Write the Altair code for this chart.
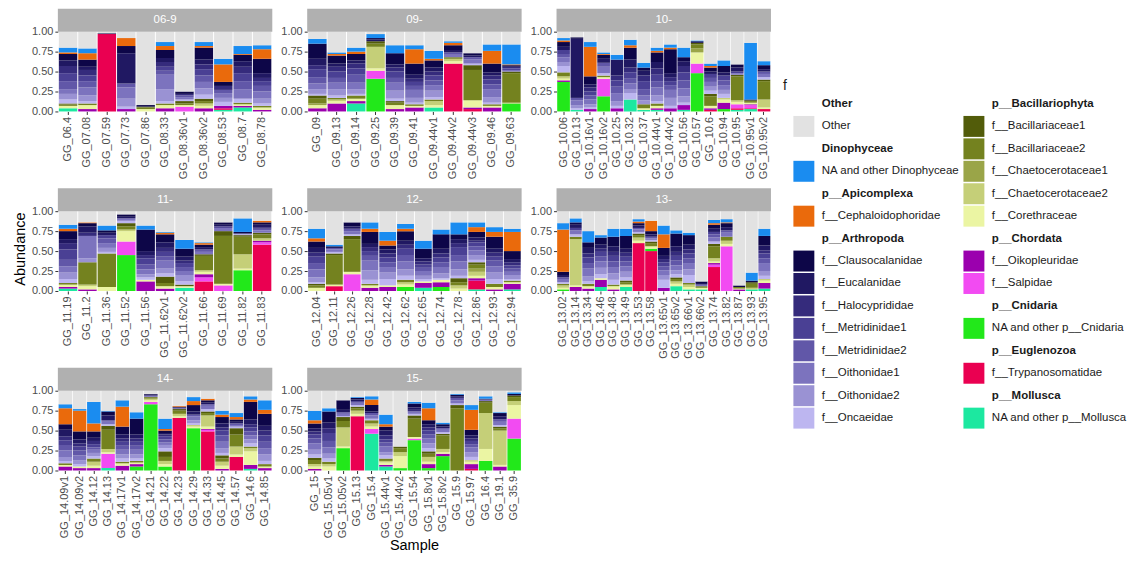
import altair as alt
import pandas as pd

FONT = "Liberation Sans"

# ---------------- families (legend order, top -> bottom) ----------------
FAMILIES = [
    "Other", "NA and other Dinophyceae", "f__Cephaloidophoridae",
    "f__Clausocalanidae", "f__Eucalanidae", "f__Halocyprididae",
    "f__Metridinidae1", "f__Metridinidae2", "f__Oithonidae1", "f__Oithonidae2",
    "f__Oncaeidae", "f__Bacillariaceae1", "f__Bacillariaceae2",
    "f__Chaetocerotaceae1", "f__Chaetocerotaceae2", "f__Corethraceae",
    "f__Oikopleuridae", "f__Salpidae", "NA and other p__Cnidaria",
    "f__Trypanosomatidae", "NA and other p__Mollusca",
]
COLORS = [
    "#E2E2E2", "#1A8CF0", "#EA6A0C",
    "#0D0648", "#201862", "#352B7C",
    "#4A4094", "#6157A8", "#7C73BE", "#9A92D3",
    "#BDB6F0", "#525C0A", "#74821F",
    "#9AA548", "#C5CF78", "#EBF5A3",
    "#9B00AE", "#F24BF2", "#22E81A",
    "#EA0051", "#1CE8A0",
]
CODES = {
    "Di": "NA and other Dinophyceae", "Ce": "f__Cephaloidophoridae",
    "Cl": "f__Clausocalanidae", "Eu": "f__Eucalanidae", "Ha": "f__Halocyprididae",
    "M1": "f__Metridinidae1", "M2": "f__Metridinidae2", "O1": "f__Oithonidae1",
    "O2": "f__Oithonidae2", "On": "f__Oncaeidae", "B1": "f__Bacillariaceae1",
    "B2": "f__Bacillariaceae2", "C1": "f__Chaetocerotaceae1",
    "C2": "f__Chaetocerotaceae2", "Co": "f__Corethraceae", "Oi": "f__Oikopleuridae",
    "Sa": "f__Salpidae", "Cn": "NA and other p__Cnidaria",
    "Tr": "f__Trypanosomatidae", "Mo": "NA and other p__Mollusca",
}

GROUPS = ["06-9", "09-", "10-", "11-", "12-", "13-", "14-", "15-"]

# ---------------- panel 06-9 ----------------
S1 = ["GG_06.4", "GG_07.08", "GG_07.59", "GG_07.73", "GG_07.86", "GG_08.33",
      "GG_08.36v1", "GG_08.36v2", "GG_08.53", "GG_08.7", "GG_08.78"]
C1 = [
    dict(Mo=.04, Co=.03, B2=.02, B1=.01, On=.05, O2=.07, O1=.06, M2=.10, M1=.10, Ha=.09, Eu=.07, Cl=.08, Ce=.02, Di=.06),
    dict(Oi=.03, Co=.05, B2=.02, On=.03, O2=.07, O1=.10, M2=.08, M1=.07, Ha=.07, Eu=.04, Cl=.09, Ce=.08, Di=.06),
    dict(Tr=.97, Cl=.01),
    dict(Oi=.03, On=.03, O2=.10, O1=.14, M2=.05, Eu=.38, Cl=.09, Ce=.10),
    dict(Co=.03, B2=.02, B1=.01, Cl=.02),
    dict(Oi=.04, Co=.04, B2=.02, On=.03, O2=.15, O1=.18, M2=.05, M1=.05, Ha=.06, Eu=.05, Cl=.10, Ce=.05, Di=.05),
    dict(Sa=.06, Co=.02, B2=.02, B1=.03, On=.02, O1=.03, M2=.02, Ha=.02, Cl=.03),
    dict(Oi=.04, Co=.03, C2=.03, B2=.03, B1=.03, On=.05, O2=.08, O1=.08, M2=.08, M1=.08, Ha=.06, Eu=.06, Cl=.15, Ce=.02, Di=.05),
    dict(Mo=.02, Tr=.02, Oi=.03, On=.05, O2=.05, O1=.06, M2=.04, Ha=.05, Cl=.05, Ce=.22, Di=.07),
    dict(Mo=.05, Oi=.02, Co=.02, B2=.02, On=.05, O1=.12, M2=.10, M1=.10, Ha=.08, Eu=.07, Cl=.08, Ce=.01, Di=.10),
    dict(Oi=.02, Co=.03, B2=.02, On=.03, O2=.06, O1=.09, M2=.07, M1=.06, Ha=.04, Eu=.06, Cl=.18, Ce=.12, Di=.05),
]

# ---------------- panel 09- ----------------
S2 = ["GG_09", "GG_09.13", "GG_09.14", "GG_09.25", "GG_09.39", "GG_09.41",
      "GG_09.44v1", "GG_09.44v2", "GG_09.44v3", "GG_09.46", "GG_09.63"]
C2 = [
    dict(Oi=.04, Co=.04, C1=.02, B2=.06, B1=.04, On=.02, O2=.06, O1=.07, M2=.08, M1=.10, Ha=.05, Eu=.08, Cl=.19, Di=.06),
    dict(Oi=.10, Co=.03, C2=.02, B2=.02, On=.03, O2=.08, O1=.08, M2=.06, M1=.08, Ha=.06, Eu=.04, Cl=.10, Ce=.02, Di=.02),
    dict(Mo=.10, Oi=.03, Co=.03, B2=.04, On=.02, O2=.06, O1=.08, M2=.10, M1=.08, Ha=.06, Eu=.04, Cl=.08, Ce=.03, Di=.05),
    dict(Cn=.41, Sa=.10, Co=.03, C2=.27, B2=.04, B1=.03, Eu=.02, Cl=.02, Di=.05),
    dict(Oi=.03, Co=.05, B2=.03, B1=.02, On=.03, O2=.10, O1=.10, M2=.06, M1=.08, Ha=.05, Eu=.04, Cl=.14, Di=.10),
    dict(Oi=.05, Co=.02, B2=.02, On=.02, O2=.06, O1=.10, M2=.05, M1=.05, Ha=.04, Eu=.05, Cl=.14, Ce=.18, Di=.05),
    dict(Mo=.05, Co=.03, C2=.05, B2=.02, On=.03, O2=.08, O1=.07, M2=.06, M1=.06, Ha=.05, Eu=.05, Cl=.09, Ce=.02, Di=.10),
    dict(Tr=.60, Co=.03, C2=.03, B2=.02, O1=.03, M2=.03, Eu=.03, Cl=.06, Ce=.03, Di=.02),
    dict(Tr=.03, Oi=.02, Co=.09, B2=.38, B1=.06, On=.02, O1=.05, M2=.03, Eu=.02, Cl=.03),
    dict(Oi=.05, Co=.02, B2=.02, On=.02, O2=.07, O1=.10, M2=.06, M1=.06, Ha=.05, Eu=.04, Cl=.11, Ce=.16, Di=.08),
    dict(Cn=.10, C2=.01, B2=.37, B1=.02, O1=.02, M1=.02, Ha=.02, Cl=.02, Ce=.01, Di=.25),
]

# ---------------- panel 10- ----------------
S3 = ["GG_10.06", "GG_10.13", "GG_10.16v1", "GG_10.16v2", "GG_10.25", "GG_10.32",
      "GG_10.37", "GG_10.44v1", "GG_10.44v2", "GG_10.56", "GG_10.57", "GG_10.6",
      "GG_10.94", "GG_10.95", "GG_10.95v1", "GG_10.95v2"]
C3 = [
    dict(Cn=.37, Oi=.02, C2=.03, B2=.05, Co=.02, On=.08, O2=.05, O1=.06, M2=.04, M1=.05, Eu=.04, Cl=.06, Ce=.02, Di=.03),
    dict(Mo=.02, On=.02, O2=.04, O1=.06, M2=.03, Eu=.74, Cl=.02),
    dict(Oi=.03, On=.02, O2=.04, O1=.06, M2=.05, M1=.05, Ha=.05, Eu=.04, Cl=.10, Ce=.37, Di=.06),
    dict(Cn=.19, Sa=.22, Co=.02, B2=.02, On=.03, O1=.08, M2=.05, Eu=.05, Cl=.05, Ce=.01, Di=.02),
    dict(Oi=.04, On=.03, O2=.06, O1=.10, M2=.08, M1=.08, Ha=.06, Eu=.20, Di=.06),
    dict(Mo=.15, On=.08, O2=.05, O1=.07, M2=.06, M1=.08, Ha=.06, Eu=.10, Cl=.15, Ce=.03, Di=.07),
    dict(Mo=.02, Co=.02, B2=.05, O2=.05, O1=.06, M2=.08, M1=.10, Ha=.07, Eu=.06, Cl=.04, Di=.06),
    dict(Mo=.02, Oi=.02, Co=.03, B2=.03, On=.03, O2=.07, O1=.10, M2=.08, M1=.08, Ha=.08, Eu=.08, Cl=.12, Ce=.02, Di=.04),
    dict(Oi=.04, On=.03, O2=.10, O1=.10, M2=.06, M1=.05, Ha=.05, Eu=.05, Cl=.30, Ce=.02, Di=.04),
    dict(Mo=.02, Oi=.06, On=.03, O2=.08, O1=.10, M2=.10, M1=.10, Ha=.08, Eu=.06, Cl=.05, Di=.12),
    dict(Cn=.48, Sa=.12, Co=.14, C1=.05, B2=.05, B1=.02, Cl=.02, Di=.01),
    dict(Tr=.02, Oi=.02, Co=.03, B2=.12, B1=.03, On=.04, O2=.05, O1=.06, M2=.05, M1=.05, Eu=.03, Cl=.05, Ce=.02, Di=.03),
    dict(Cn=.03, Oi=.08, Co=.04, C2=.02, On=.05, O2=.05, O1=.06, M2=.06, M1=.06, Eu=.04, Cl=.08, Di=.07),
    dict(Mo=.02, Tr=.02, Sa=.05, Co=.03, C2=.02, B2=.30, B1=.02, O1=.02, M1=.02, Eu=.05, Cl=.04),
    dict(Mo=.03, Tr=.01, Sa=.04, Oi=.01, Co=.02, B2=.02, B1=.01, Cl=.01, Di=.71),
    dict(Tr=.03, Co=.02, C2=.10, B2=.23, B1=.02, On=.03, O1=.04, M2=.03, Eu=.03, Cl=.05, Di=.05),
]

# ---------------- panel 11- ----------------
S4 = ["GG_11.19", "GG_11.2", "GG_11.36", "GG_11.52", "GG_11.56", "GG_11.62v1",
      "GG_11.62v2", "GG_11.66", "GG_11.69", "GG_11.82", "GG_11.83"]
C4 = [
    dict(Mo=.03, Oi=.02, Co=.03, B2=.02, On=.05, O2=.08, O1=.08, M2=.08, M1=.13, Ha=.08, Eu=.05, Cl=.10, Ce=.03, Di=.05),
    dict(Oi=.02, Co=.04, C2=.02, B2=.28, O2=.05, O1=.28, Ha=.04, Eu=.08, Cl=.04, Ce=.01),
    dict(Co=.05, B2=.42, On=.02, O2=.05, O1=.06, M2=.06, M1=.04, Eu=.03, Cl=.03, Di=.06),
    dict(Cn=.45, Sa=.17, Co=.13, C2=.02, B2=.04, B1=.04, On=.03, O1=.03, Eu=.02, Cl=.03),
    dict(Oi=.12, Co=.02, On=.03, O2=.04, O1=.06, M2=.06, M1=.08, Ha=.04, Eu=.05, Cl=.27, Di=.05),
    dict(Oi=.03, Co=.03, B2=.04, B1=.08, On=.04, O2=.06, O1=.10, M2=.05, M1=.06, Ha=.05, Eu=.07, Cl=.10, Ce=.02, Di=.01),
    dict(Mo=.04, Co=.02, B1=.02, On=.04, O2=.08, O1=.05, M2=.05, M1=.05, Ha=.03, Eu=.05, Cl=.10, Di=.11),
    dict(Tr=.12, Sa=.05, Oi=.04, Co=.03, C2=.02, B2=.18, B1=.02, O1=.03, M2=.03, Eu=.03, Cl=.03, Ce=.02, Di=.01),
    dict(Sa=.07, Co=.02, B2=.60, B1=.06, O1=.04, M1=.02, Eu=.02, Cl=.03),
    dict(Cn=.26, Co=.02, C2=.18, B2=.22, B1=.02, On=.01, O1=.01, Cl=.02, Di=.17),
    dict(Tr=.58, Sa=.03, Oi=.02, C2=.03, B2=.05, B1=.02, O1=.03, M2=.02, Ha=.02, Eu=.03, Cl=.03, Ce=.02),
]

# ---------------- panel 12- ----------------
S5 = ["GG_12.04", "GG_12.11", "GG_12.26", "GG_12.28", "GG_12.42", "GG_12.62",
      "GG_12.65", "GG_12.74", "GG_12.78", "GG_12.86", "GG_12.93", "GG_12.94"]
C5 = [
    dict(Co=.04, B2=.03, B1=.02, On=.02, O2=.06, O1=.10, M2=.08, M1=.08, Ha=.05, Eu=.06, Cl=.08, Ce=.04, Di=.12),
    dict(Tr=.06, Co=.02, B2=.37, B1=.02, On=.02, O1=.03, M2=.02, Cl=.02, Di=.02),
    dict(Sa=.21, Co=.03, B2=.41, B1=.04, On=.02, O1=.04, M2=.03, Eu=.03, Cl=.05),
    dict(Oi=.04, Co=.03, B2=.02, On=.05, O2=.12, O1=.12, M2=.06, M1=.06, Ha=.05, Eu=.04, Cl=.15, Ce=.04, Di=.08),
    dict(Oi=.05, Co=.02, On=.08, O2=.08, O1=.07, M2=.06, M1=.06, Ha=.05, Eu=.05, Cl=.05, Ce=.06, Di=.11),
    dict(Cn=.05, Co=.03, C2=.03, B2=.03, On=.05, O2=.08, O1=.10, M2=.08, M1=.08, Ha=.05, Eu=.05, Cl=.12, Ce=.03, Di=.06),
    dict(Mo=.04, Oi=.06, Co=.02, On=.03, O2=.04, O1=.06, M2=.04, M1=.04, Ha=.04, Eu=.04, Cl=.12, Di=.10),
    dict(Cn=.05, Oi=.06, Co=.03, On=.02, O2=.06, O1=.08, M2=.06, M1=.06, Ha=.05, Eu=.06, Cl=.18, Di=.06),
    dict(Co=.03, C2=.04, B2=.04, B1=.05, On=.03, O2=.08, O1=.10, M2=.08, M1=.10, Ha=.05, Eu=.05, Cl=.06, Di=.15),
    dict(Mo=.02, Tr=.11, Oi=.03, Co=.03, C2=.05, C1=.04, B2=.05, B1=.03, On=.03, O2=.06, O1=.06, M2=.05, M1=.05, Ha=.02, Eu=.04, Cl=.07, Ce=.06, Di=.06),
    dict(Oi=.02, Co=.03, B2=.04, On=.06, O2=.08, O1=.08, M2=.07, M1=.05, Ha=.05, Eu=.05, Cl=.15, Ce=.06, Di=.06),
    dict(Mo=.02, Oi=.07, Co=.02, B2=.02, On=.02, O2=.05, O1=.04, M2=.04, M1=.04, Ha=.04, Eu=.04, Cl=.10, Ce=.24, Di=.04),
]

# ---------------- panel 13- ----------------
S6 = ["GG_13.02", "GG_13.14", "GG_13.34", "GG_13.46", "GG_13.48", "GG_13.49",
      "GG_13.53", "GG_13.58", "GG_13.65v1", "GG_13.65v2", "GG_13.66v1",
      "GG_13.66v2", "GG_13.74", "GG_13.82", "GG_13.87", "GG_13.93", "GG_13.95"]
C6 = [
    dict(Cn=.02, Co=.02, C2=.03, B2=.02, On=.02, O1=.04, M2=.02, Eu=.03, Cl=.04, Ce=.53, Di=.08),
    dict(Oi=.05, Co=.02, C2=.58, B2=.03, On=.03, O1=.05, M1=.03, Eu=.04, Cl=.03, Di=.05),
    dict(Oi=.03, Co=.03, B2=.03, On=.03, O2=.06, O1=.10, M2=.07, M1=.07, Ha=.05, Eu=.07, Cl=.07, Di=.14),
    dict(Mo=.05, Oi=.09, Co=.02, On=.05, O2=.08, O1=.08, M2=.06, M1=.06, Ha=.04, Eu=.05, Cl=.09, Di=.03),
    dict(Oi=.02, Co=.04, B2=.02, On=.06, O2=.08, O1=.08, M2=.07, M1=.07, Ha=.05, Eu=.07, Cl=.12, Di=.10),
    dict(Mo=.05, Co=.03, B2=.03, B1=.02, On=.04, O2=.07, O1=.07, M2=.06, M1=.06, Ha=.05, Eu=.05, Cl=.16, Di=.09),
    dict(Tr=.60, Co=.03, C2=.04, B2=.03, B1=.02, On=.02, O1=.03, M2=.02, Eu=.03, Cl=.03, Ce=.02, Di=.03),
    dict(Tr=.50, Cn=.03, Co=.03, B2=.04, B1=.02, On=.02, O1=.02, M2=.02, Eu=.03, Cl=.04, Ce=.13),
    dict(Oi=.04, On=.10, O2=.06, O1=.06, M2=.05, M1=.05, Ha=.04, Eu=.04, Cl=.10, Ce=.17, Di=.11),
    dict(Mo=.06, Co=.03, C2=.03, B2=.03, B1=.02, On=.04, O2=.05, O1=.06, M2=.06, M1=.06, Ha=.05, Eu=.07, Cl=.16, Di=.04),
    dict(Mo=.02, Co=.03, C2=.03, B2=.02, On=.10, O2=.07, O1=.08, M2=.06, M1=.06, Ha=.05, Eu=.06, Cl=.12, Di=.03),
    dict(Mo=.02, Co=.02, B2=.02, O1=.02, Eu=.02, Cl=.02),
    dict(Tr=.30, Sa=.03, Oi=.02, Co=.02, C2=.04, B2=.15, B1=.03, On=.03, O1=.05, M2=.04, M1=.03, Eu=.04, Cl=.05, Ce=.02, Di=.04),
    dict(Sa=.56, Co=.03, C2=.04, B2=.05, O1=.05, M2=.03, Eu=.04, Cl=.05, Ce=.01, Di=.04),
    dict(Oi=.02, Co=.01, B2=.02, Cl=.02),
    dict(Mo=.02, C2=.02, B2=.05, B1=.02, Cl=.02, Di=.10),
    dict(Mo=.03, Oi=.07, Co=.03, C2=.02, On=.04, O2=.06, O1=.10, M2=.06, M1=.06, Ha=.04, Eu=.06, Cl=.12, Di=.09),
]

# ---------------- panel 14- ----------------
S7 = ["GG_14.09v1", "GG_14.09v2", "GG_14.12", "GG_14.13", "GG_14.17v1", "GG_14.17v2",
      "GG_14.21", "GG_14.22", "GG_14.23", "GG_14.29", "GG_14.33", "GG_14.45",
      "GG_14.57", "GG_14.6", "GG_14.85"]
C7 = [
    dict(Oi=.05, Co=.02, B2=.02, On=.03, O2=.05, O1=.08, M2=.07, M1=.06, Ha=.05, Eu=.08, Cl=.07, Ce=.20, Di=.05),
    dict(Oi=.03, Co=.02, On=.03, O2=.05, O1=.06, M2=.06, M1=.05, Ha=.04, Eu=.05, Cl=.10, Ce=.26, Di=.02),
    dict(Oi=.03, Co=.03, C2=.05, B2=.04, On=.03, O2=.04, O1=.04, M2=.03, M1=.04, Ha=.04, Eu=.04, Cl=.08, Ce=.10, Di=.27),
    dict(Mo=.03, Sa=.18, Co=.02, C2=.04, B2=.24, B1=.05, On=.02, O1=.03, M2=.02, Eu=.06, Cl=.05, Di=.01),
    dict(Oi=.06, Co=.03, B2=.02, On=.04, O2=.05, O1=.06, M2=.05, M1=.05, Ha=.04, Eu=.05, Cl=.10, Ce=.25, Di=.08),
    dict(Cn=.05, Oi=.03, Co=.02, B2=.02, On=.03, O2=.05, O1=.06, M2=.05, M1=.05, Ha=.04, Eu=.05, Cl=.20, Di=.08),
    dict(Cn=.83, Sa=.03, Co=.02, C2=.02, B2=.02, O1=.01, M1=.01, Eu=.01, Cl=.01),
    dict(Cn=.05, Co=.03, C2=.04, B2=.05, B1=.07, On=.04, O2=.04, O1=.03, M2=.04, M1=.04, Ha=.02, Eu=.02, Cl=.03, Ce=.02, Di=.13),
    dict(Tr=.66, Co=.02, C2=.03, B2=.04, B1=.02, O1=.01, Eu=.01, Cl=.01, Ce=.01),
    dict(Cn=.53, Co=.02, C2=.02, On=.02, O2=.04, O1=.05, M2=.02, Eu=.04, Cl=.08, Ce=.05, Di=.05),
    dict(Tr=.49, Sa=.02, Oi=.01, Co=.03, C2=.14, B2=.03, B1=.02, On=.03, O1=.04, M2=.02, Eu=.02, Cl=.03, Ce=.02),
    dict(Oi=.02, Co=.04, C2=.05, B2=.04, B1=.04, On=.03, O2=.06, O1=.08, M2=.08, M1=.06, Ha=.04, Eu=.05, Cl=.08, Ce=.03, Di=.05),
    dict(Tr=.17, Co=.03, C2=.10, B2=.15, B1=.08, On=.02, O1=.02, M2=.02, Eu=.02, Cl=.03, Ce=.03, Di=.05),
    dict(Mo=.02, Oi=.05, Co=.17, C2=.04, B2=.02, On=.04, O2=.05, O1=.05, M2=.05, M1=.05, Ha=.04, Eu=.06, Cl=.22, Ce=.03, Di=.04),
    dict(Oi=.03, Co=.02, B2=.03, On=.04, O2=.08, O1=.08, M2=.08, M1=.08, Ha=.06, Eu=.06, Cl=.15, Ce=.05, Di=.12),
]

# ---------------- panel 15- ----------------
S8 = ["GG_15", "GG_15.05v1", "GG_15.05v2", "GG_15.13", "GG_15.4", "GG_15.44v1",
      "GG_15.44v2", "GG_15.54", "GG_15.8v1", "GG_15.8v2", "GG_15.9", "GG_15.97",
      "GG_16.4", "GG_19.1", "GG_35.9"]
C8 = [
    dict(Oi=.02, Co=.03, C2=.03, B2=.05, B1=.03, On=.04, O2=.06, O1=.08, M2=.06, M1=.05, Ha=.04, Eu=.04, Cl=.06, Ce=.04, Di=.12),
    dict(Co=.05, C2=.03, B2=.03, On=.04, O2=.06, O1=.08, M2=.08, M1=.10, Ha=.06, Eu=.07, Cl=.14, Di=.04),
    dict(Cn=.28, Co=.02, C2=.24, B2=.08, B1=.05, On=.01, O1=.03, M2=.02, Eu=.03, Cl=.12),
    dict(Tr=.68, Co=.03, C2=.04, B2=.03, B1=.02, On=.02, O1=.03, M1=.02, Eu=.02, Cl=.02, Di=.01),
    dict(Mo=.46, Sa=.06, Co=.03, C2=.04, B2=.04, On=.02, O1=.04, M2=.03, Eu=.02, Cl=.08, Ce=.07, Di=.04),
    dict(Mo=.05, Oi=.02, Co=.03, C2=.02, B2=.03, On=.04, O2=.04, O1=.07, M2=.05, M1=.04, Ha=.05, Eu=.06, Cl=.05, Ce=.03, Di=.12),
    dict(Cn=.03, Co=.15, C2=.05, B2=.05, B1=.02),
    dict(Cn=.38, Sa=.02, Co=.02, B2=.23, B1=.04, On=.02, O1=.03, Ha=.02, Eu=.03, Cl=.05, Di=.02),
    dict(Cn=.03, Oi=.05, Co=.03, C2=.06, B2=.04, B1=.03, On=.04, O2=.06, O1=.06, M2=.05, M1=.05, Ha=.04, Eu=.04, Cl=.05, Ce=.15, Di=.07),
    dict(Cn=.18, Oi=.03, Co=.02, C2=.04, B2=.17, B1=.02, On=.02, O1=.03, M2=.02, Eu=.02, Cl=.03, Di=.02),
    dict(B2=.78, B1=.04, On=.02, O1=.04, M2=.03, Eu=.02, Cl=.02, Di=.01),
    dict(Tr=.02, Oi=.06, Co=.03, C2=.02, On=.04, O2=.06, O1=.06, M2=.04, M1=.04, Ha=.03, Eu=.04, Cl=.07, Ce=.25, Di=.06),
    dict(Cn=.12, Co=.15, C2=.45, B2=.13, B1=.02, O1=.02, Cl=.01, Di=.03),
    dict(Oi=.05, Co=.02, C2=.43, B2=.03, B1=.02, On=.02, O1=.04, M2=.03, Eu=.04, Cl=.04, Di=.01),
    dict(Cn=.40, Sa=.25, Co=.17, C2=.05, B2=.05, B1=.02, Cl=.02, Di=.02),
]

PANELS = [(GROUPS[0], S1, C1), (GROUPS[1], S2, C2), (GROUPS[2], S3, C3),
          (GROUPS[3], S4, C4), (GROUPS[4], S5, C5), (GROUPS[5], S6, C6),
          (GROUPS[6], S7, C7), (GROUPS[7], S8, C8)]

# ---------------- legend layout (entries) ----------------
LEGEND_LEFT = [
    ("h", "Other"), ("s", "Other"),
    ("h", "Dinophyceae"), ("s", "NA and other Dinophyceae"),
    ("h", "p__Apicomplexa"), ("s", "f__Cephaloidophoridae"),
    ("h", "p__Arthropoda"), ("s", "f__Clausocalanidae"), ("s", "f__Eucalanidae"),
    ("s", "f__Halocyprididae"), ("s", "f__Metridinidae1"), ("s", "f__Metridinidae2"),
    ("s", "f__Oithonidae1"), ("s", "f__Oithonidae2"), ("s", "f__Oncaeidae"),
]
LEGEND_RIGHT = [
    ("h", "p__Bacillariophyta"), ("s", "f__Bacillariaceae1"), ("s", "f__Bacillariaceae2"),
    ("s", "f__Chaetocerotaceae1"), ("s", "f__Chaetocerotaceae2"), ("s", "f__Corethraceae"),
    ("h", "p__Chordata"), ("s", "f__Oikopleuridae"), ("s", "f__Salpidae"),
    ("h", "p__Cnidaria"), ("s", "NA and other p__Cnidaria"),
    ("h", "p__Euglenozoa"), ("s", "f__Trypanosomatidae"),
    ("h", "p__Mollusca"), ("s", "NA and other p__Mollusca"),
]
LEGEND_TITLE = "f"

# ---------------- build tables ----------------
n_f = len(FAMILIES)
rank = {f: n_f - 1 - i for i, f in enumerate(FAMILIES)}
rows = []
for g, samples, comps in PANELS:
    for s, comp in zip(samples, comps):
        total = 0.0
        for code, v in comp.items():
            fam = CODES[code]
            rows.append(dict(group=g, sample=s, fam=fam, value=v, rank=rank[fam]))
            total += v
        rows.append(dict(group=g, sample=s, fam="Other",
                         value=max(0.0, round(1.0 - total, 4)), rank=rank["Other"]))
df = pd.DataFrame(rows)

leg_rows = []
for c, entries in enumerate([LEGEND_LEFT, LEGEND_RIGHT]):
    for r, (kind, lab) in enumerate(entries):
        leg_rows.append(dict(col=c, row=r, kind=kind, label=lab))
leg = pd.DataFrame(leg_rows)
sw_df = leg[leg.kind == "s"].rename(columns={"label": "fam"})
lab_df = leg[leg.kind == "s"]
head_df = leg[leg.kind == "h"]
title_df = pd.DataFrame([dict(col=0, row=-0.82, label=LEGEND_TITLE)])

# ---------------- panels ----------------
W, H = 215, 80
color_scale = alt.Scale(domain=FAMILIES, range=COLORS)

bars = alt.Chart().mark_bar().encode(
    x=alt.X("sample:N", title=None,
            scale=alt.Scale(paddingInner=0.05, paddingOuter=0.05),
            axis=alt.Axis(labelAngle=270, labelFontSize=11, labelColor="#4D4D4D",
                          tickColor="#333333", tickSize=3, domain=False,
                          labelOverlap=False, labelPadding=2, labelFont=FONT)),
    y=alt.Y("value:Q", stack="zero", title=None,
            scale=alt.Scale(domain=[0, 1], nice=False),
            axis=alt.Axis(values=[0, 0.25, 0.5, 0.75, 1], format=".2f", grid=False,
                          domain=False, tickColor="#333333", tickSize=3,
                          labelColor="#4D4D4D", labelFontSize=11, labelPadding=2,
                          labelFont=FONT)),
    color=alt.Color("fam:N", scale=color_scale, legend=None),
    order=alt.Order("rank:Q", sort="ascending"),
)

strip = alt.Chart().transform_aggregate(
    n="count()", groupby=["group"]
).mark_rect(color="#B0B0B0").encode(
    x=alt.value(0), x2=alt.value(W), y=alt.value(-23), y2=alt.value(0)
)
strip_text = alt.Chart().transform_aggregate(
    n="count()", groupby=["group"]
).mark_text(color="white", fontSize=11.5, font=FONT, baseline="middle").encode(
    x=alt.value(W / 2), y=alt.value(-11.5), text="group:N"
)
ytitle = alt.Chart().transform_filter(alt.datum.group == "11-").transform_aggregate(
    n="count()", groupby=["group"]
).mark_text(text="Abundance", angle=270, fontSize=14.5, font=FONT, color="#000000",
            baseline="middle").encode(x=alt.value(-36.5), y=alt.value(38))
xtitle = alt.Chart().transform_filter(alt.datum.group == "15-").transform_aggregate(
    n="count()", groupby=["group"]
).mark_text(text="Sample", fontSize=14.5, font=FONT, color="#000000",
            baseline="middle").encode(x=alt.value(W / 2), y=alt.value(156))

panels = alt.layer(bars, strip, strip_text, ytitle, xtitle, data=df).properties(
    width=W, height=H
).facet(
    facet=alt.Facet("group:N", sort=GROUPS,
                    header=alt.Header(labels=False, title=None, labelExpr="''",
                                      labelFontSize=0, labelPadding=0)),
    columns=3,
    spacing={"row": 100, "column": 35},
    bounds="flush",
).resolve_scale(x="independent").resolve_axis(x="independent", y="independent")

# ---------------- legend ----------------
lx = alt.X("col:Q", scale=alt.Scale(domain=[0, 1], range=[23, 193.5]), axis=None)
ly = alt.Y("row:Q", scale=alt.Scale(domain=[0, 14], range=[72.5, 387.5]), axis=None)

sw = alt.Chart(sw_df).mark_square(size=441, opacity=1).encode(
    x=lx, y=ly, color=alt.Color("fam:N", scale=color_scale, legend=None)
)
labels = alt.Chart(lab_df).mark_text(
    align="left", baseline="middle", dx=18, fontSize=11.5, font=FONT, color="#1A1A1A"
).encode(x=lx, y=ly, text="label:N")
heads = alt.Chart(head_df).mark_text(
    align="left", baseline="middle", dx=18, fontSize=11.5, font=FONT,
    fontWeight="bold", color="#1A1A1A"
).encode(x=lx, y=ly, text="label:N")
ltitle = alt.Chart(title_df).mark_text(
    align="left", baseline="middle", dx=-21, fontSize=14, font=FONT, color="#1A1A1A"
).encode(x=lx, y=ly, text="label:N")

legend = alt.layer(sw, labels, heads, ltitle).properties(width=330, height=400)

chart = alt.hconcat(panels, legend, spacing=10).properties(
    padding={"left": 5, "top": 0, "right": 0, "bottom": 0}
).configure(font=FONT).configure_view(
    strokeWidth=0, stroke="transparent"
).configure_header(labelFontSize=0, labelPadding=0, titlePadding=0)

chart.save("out.html", embed_options={"renderer": "svg", "actions": False})
